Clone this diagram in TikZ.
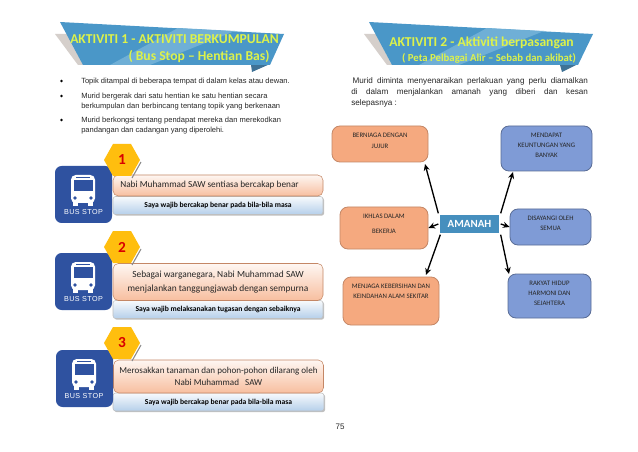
\documentclass[tikz,border=0pt]{standalone}
\usepackage{fontspec}
\setmainfont{Liberation Sans}
\newfontfamily\cb{Carlito}
\newfontfamily\busf[LetterSpace=6]{Liberation Sans}
\usetikzlibrary{arrows.meta,shadows}
\definecolor{bannerblue}{HTML}{4A97C8}
\definecolor{bannerlight}{HTML}{6FAFD6}
\definecolor{bannerdark}{HTML}{3F7296}
\definecolor{foldgray}{HTML}{D5CFCB}
\definecolor{titleyellow}{HTML}{DDF24A}
\definecolor{busblue}{HTML}{2F52A0}
\definecolor{hexgold}{HTML}{FFBE0E}
\definecolor{salmon}{HTML}{F5A97F}
\definecolor{periwinkle}{HTML}{7F9BD6}
\definecolor{barblue}{HTML}{B5CFEA}
\tikzset{
  fs/.style={font=\fontsize{#1}{#1}\selectfont},
  cbr/.style={font=\cb\fontsize{#1}{#1}\selectfont},
  cbb/.style={font=\cb\bfseries\fontsize{#1}{#1}\selectfont},
  size/.style 2 args={minimum width=#1*.75pt,minimum height=#2*.75pt},
  title/.style={inner sep=0pt,text=titleyellow},
  body/.style={anchor=west,inner sep=0pt,align=left,text=black!85},
  pinkbox/.style={draw=salmon!80!black,line width=.4pt,rounded corners=4pt,top color=white!90!salmon,bottom color=salmon!75,align=center,inner sep=0pt,text=black!85},
  bluebar/.style={draw=black!25,line width=.4pt,rounded corners=2pt,top color=white!90!barblue,bottom color=barblue,align=center,inner sep=0pt,drop shadow={shadow xshift=.9pt,shadow yshift=-.9pt,fill=black!50}},
  mapa/.style={draw=salmon!80!black,line width=.6pt,rounded corners=6pt,fill=salmon,align=center,inner sep=0pt,text=black!85},
  mapb/.style={draw=periwinkle!70!black,line width=.6pt,rounded corners=6pt,fill=periwinkle,align=center,inner sep=0pt,text=black!85},
  link/.style={draw=black,line width=1pt,-{Stealth[length=5pt,width=4.5pt]},shorten >=0pt,shorten <=0pt},
  hexlabel/.style={inner sep=0pt,text=red!85!black},
  busword/.style={inner sep=0pt,text=white,font=\busf\fontsize{5.4}{5.4}\selectfont},
}
\newcommand{\busicon}[2]{%
  \begin{scope}[shift={(#1,#2)}]
    \fill[busblue,rounded corners=5pt] (0,0) rectangle (57,57);
    \fill[white,rounded corners=3.5pt] (16,9) rectangle (40,37);
    \fill[white] (18,36) rectangle (23,40);
    \fill[white] (33,36) rectangle (38,40);
    \fill[busblue] (18.5,14) rectangle (37.5,25);
    \fill[busblue] (21,10.8) rectangle (35,12.2);
    \fill[busblue] (20,32) circle (1.8);
    \fill[busblue] (36,32) circle (1.8);
  \end{scope}}
\newcommand{\hexbadge}[2]{%
  \begin{scope}[shift={(#1,#2)}]
    \draw[black!45,line width=.8pt] (19,2) -- (10,18);
    \fill[hexgold] (-18,0) -- (-9,-16) -- (9,-16) -- (18,0) -- (9,16) -- (-9,16) -- cycle;
  \end{scope}}
\begin{document}
\begin{tikzpicture}[x=.75pt,y=-.75pt]
\useasboundingbox (0,0) rectangle (638,452);
\fill[white] (0,0) rectangle (638,452);

% left banner
\fill[foldgray] (55,34) -- (72,34) -- (83,65) -- (78,65) -- cycle;
\fill[bannerdark] (251,65) -- (270,64) -- (252,72) -- cycle;
\fill[bannerblue] (60,22) -- (284,34) -- (270,65) -- (83,65) -- cycle;
\fill[bannerlight] (110,65) -- (178,28) -- (235,31) -- (150,65) -- cycle;
\node[title,cbb=10.2] (t1) at (174.5,39.5) {AKTIVITI 1 - AKTIVITI BERKUMPULAN};
\node[title,cbb=10.2] (t1b) at (199,57) {( Bus Stop – Hentian Bas)};

% left bullets
\node[body,fs=5.65] (b1) at (81,81.5) {Topik ditampal di beberapa tempat di dalam kelas atau dewan.};
\node[body,fs=5.65] (b2) at (81,101.5) {Murid bergerak dari satu hentian ke satu hentian secara\\[1.65pt]berkumpulan dan berbincang tentang topik yang berkenaan};
\node[body,fs=5.65] (b3) at (81,125.5) {Murid berkongsi tentang pendapat mereka dan merekodkan\\[1.65pt]pandangan dan cadangan  yang diperolehi.};
\foreach \y in {81,96,120} \fill[black] (61.5,\y) circle (1.4);

% stop 1
\node[bluebar,size={210}{18},cbb=5.7] (s1) at (218,205.5) {Saya wajib bercakap benar pada bila-bila masa};
\node[pinkbox,size={210}{21},cbr=6.95] (p1) at (218,185.5) {\hspace*{-12.75pt}Nabi Muhammad SAW sentiasa bercakap benar};
\busicon{55}{166}
\node[busword] (bs1) at (83.5,211.7) {BUS STOP};
\hexbadge{122}{160}
\node[hexlabel,cbb=11.5] (h1) at (122,160) {1};

% stop 2
\node[bluebar,size={210}{18},cbb=5.7] (s2) at (218,309.5) {Saya wajib melaksanakan tugasan dengan sebaiknya};
\node[pinkbox,size={210}{37},cbr=7.05] (p2) at (218,282) {Sebagai warganegara, Nabi Muhammad SAW\\[3.45pt]menjalankan tanggungjawab dengan sempurna};
\busicon{55}{253}
\node[busword] (bs2) at (83.5,299) {BUS STOP};
\hexbadge{122}{247}
\node[hexlabel,cbb=11.5] (h2) at (122,247) {2};

% stop 3
\node[bluebar,size={211}{18},cbb=5.7] (s3) at (218.5,402) {Saya wajib bercakap benar pada bila-bila masa};
\node[pinkbox,size={210}{33},cbr=6.8] (p3) at (218.5,376.5) {Merosakkan tanaman dan pohon-pohon dilarang oleh\\[2.7pt]Nabi Muhammad \ \ SAW};
\busicon{56}{350}
\node[busword] (bs3) at (84,396) {BUS STOP};
\hexbadge{122}{343}
\node[hexlabel,cbb=11.5] (h3) at (122,343) {3};

% right banner
\fill[foldgray] (364,34) -- (376,34) -- (392,65) -- (387,65) -- cycle;
\fill[bannerdark] (560,65) -- (578,64) -- (562,72) -- cycle;
\fill[bannerblue] (369,22) -- (593,34) -- (578,65) -- (392,65) -- cycle;
\fill[bannerlight] (419,65) -- (487,28) -- (544,31) -- (459,65) -- cycle;
\node[title,cbb=10.2] (t2) at (481.5,42.7) {AKTIVITI 2 - Aktiviti berpasangan};
\node[title,cbb=8.05] (t2b) at (489,58.5) {( Peta Pelbagai Alir – Sebab dan akibat)};

% right paragraph
\node[body,anchor=north west,fs=6.1] (para) at (351,77) {\hspace*{1pt}\makebox[176.5pt][s]{Murid diminta menyenaraikan perlakuan yang perlu diamalkan}\\[2.1pt]\makebox[177.5pt][s]{di dalam menjalankan amanah yang diberi dan kesan}\\[2.1pt]selepasnya :};

% map
\node[draw=white,line width=1pt,fill=bannerblue!95!black,size={61}{20},inner sep=0pt,text=white,cbb=8.2,drop shadow={shadow xshift=0pt,shadow yshift=-.7pt,fill=black!25}] (am) at (469.5,224) {AMANAH};

\node[mapa,size={96}{36},cbr=5.1] (m1) at (380,144) {BERNIAGA DENGAN\\[2.6pt]JUJUR\\[-0.4pt]\mbox{}};
\node[mapa,size={88}{42},cbr=5.1] (m2) at (384,228) {IKHLAS DALAM\\[6.1pt]BEKERJA\\[0.9pt]\mbox{}};
\node[mapa,size={96}{48},cbr=5.1] (m3) at (391,301) {MENJAGA KEBERSIHAN DAN\\[2.4pt]KEINDAHAN ALAM SEKITAR\\[8.9pt]\mbox{}};
\node[mapb,size={91}{45},cbr=5.1] (m4) at (546.5,148.5) {MENDAPAT\\[2.4pt]KEUNTUNGAN YANG\\[2.4pt]BANYAK\\[-0.9pt]\mbox{}};
\node[mapb,size={81}{36},cbr=5.1] (m5) at (550.5,227) {DISAYANGI OLEH\\[2.1pt]SEMUA\\[0.1pt]\mbox{}};
\node[mapb,size={83}{44},cbr=5.1] (m6) at (549.5,296) {RAKYAT HIDUP\\[2.4pt]HARMONI DAN\\[2.4pt]SEJAHTERA\\[-1.6pt]\mbox{}};

\coordinate (e1) at (425,164);
\coordinate (e3) at (426,275);
\coordinate (e4) at (513,172);
\coordinate (e6) at (509,274);
\draw[link] (am.north west) -- (e1);
\draw[link] (am.west) -- (m2.east);
\draw[link] ([xshift=1.5pt]am.south west) -- (e3);
\draw[link] (am.north east) -- (e4);
\draw[link] (am.east) -- (m5.west);
\draw[link] (am.south east) -- (e6);

\node[inner sep=0pt,fs=6,text=black!85] (pg) at (340,427) {75};
\end{tikzpicture}
\end{document}
